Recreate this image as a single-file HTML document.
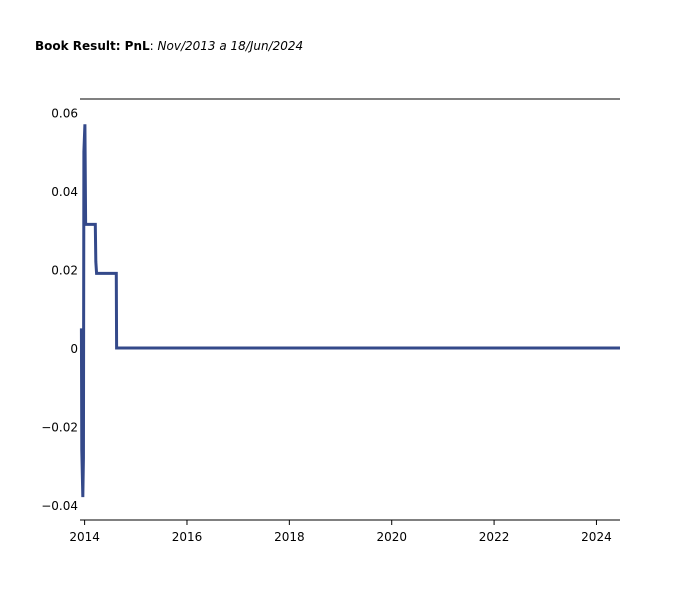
<!DOCTYPE html>
<html><head><meta charset="utf-8"><style>
body{margin:0;background:#fff;font-family:"DejaVu Sans","Liberation Sans",sans-serif;}
svg text{font-family:"DejaVu Sans","Liberation Sans",sans-serif;font-size:12px;fill:#000}
</style></head><body>
<svg width="700" height="600">
<text x="35" y="50"><tspan font-weight="bold">Book Result: PnL</tspan>: <tspan font-style="italic">Nov/2013 a 18/Jun/2024</tspan></text>
<line x1="80" y1="99" x2="620" y2="99" stroke="#000" stroke-width="1"/>
<g id="yaxis"></g>
<g id="xaxis"></g>
<path id="line" fill="none" stroke="#34498a" stroke-width="3" stroke-linejoin="miter"/>
</svg>
<script>
const dates=[2013.9375,2013.945,2013.965,2013.977,2013.986,2014.006,2014.02,2014.209,2014.219,2014.234,2014.619,2014.625,2024.46];
const pnl=[0.005,-0.026,-0.038,-0.028,0.05,0.057,0.0315,0.0315,0.022,0.019,0.019,0,0];
const yTicks=[-0.04,-0.02,0,0.02,0.04,0.06];
const yLabels=["\u22120.04","\u22120.02","0","0.02","0.04","0.06"];
const xTicks=[2014,2016,2018,2020,2022,2024];
const xLabels=["2014","2016","2018","2020","2022","2024"];
const X0=80,X1=620,D0=2013.91,D1=2024.46;
const x=d=>X0+(d-D0)/(D1-D0)*(X1-X0);
const y=v=>348-v*3925;
const NS="http://www.w3.org/2000/svg";
const ya=document.getElementById('yaxis'),xa=document.getElementById('xaxis');
yTicks.forEach((t,i)=>{const e=document.createElementNS(NS,'text');
e.setAttribute('x',78);e.setAttribute('y',y(t)+5);e.setAttribute('text-anchor','end');


e.textContent=yLabels[i];ya.appendChild(e);});
const bl=document.createElementNS(NS,'line');
bl.setAttribute('x1',X0);bl.setAttribute('x2',X1);bl.setAttribute('y1',520);bl.setAttribute('y2',520);bl.setAttribute('stroke','#000');


xa.appendChild(bl);
xTicks.forEach((t,i)=>{const l=document.createElementNS(NS,'line');
l.setAttribute('x1',x(t));l.setAttribute('x2',x(t));l.setAttribute('y1',520);l.setAttribute('y2',525);l.setAttribute('stroke','#000');


xa.appendChild(l);
const e=document.createElementNS(NS,'text');
e.setAttribute('x',x(t));e.setAttribute('y',541);e.setAttribute('text-anchor','middle');


e.textContent=xLabels[i];xa.appendChild(e);});
document.getElementById('line').setAttribute('d',dates.map((d,i)=>(i?'L':'M')+x(d).toFixed(2)+','+y(pnl[i]).toFixed(2)).join(''));
</script>
</body></html>
